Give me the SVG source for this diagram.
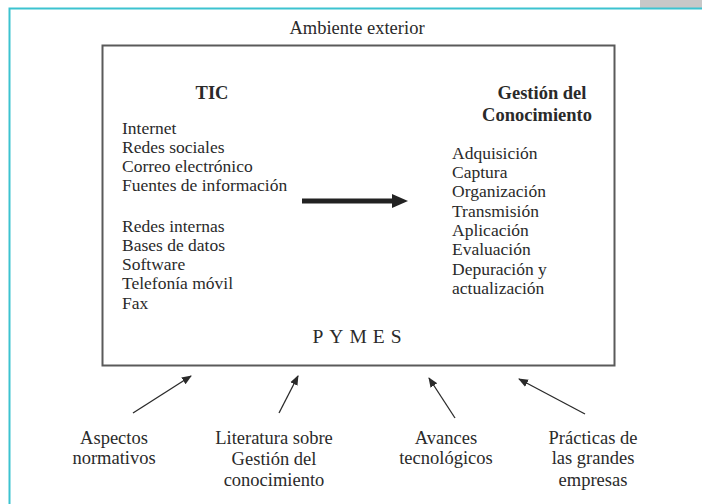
<svg xmlns="http://www.w3.org/2000/svg" width="702" height="504" viewBox="0 0 702 504">
<style>
text{font-family:"Liberation Serif","Times New Roman",serif;fill:#2a2a2a;font-size:17.5px}
.b{font-weight:bold;font-size:18.5px}
.m{text-anchor:middle}
.lbl{font-size:18.5px}
.conn{stroke:#2a2a2a;stroke-width:1.3;fill:none}
</style>
<defs>
<marker id="ah" markerWidth="10" markerHeight="10" refX="9" refY="5" orient="auto" markerUnits="userSpaceOnUse" viewBox="0 0 10 10">
<path d="M0,1 L10,5 L0,9 Z" fill="#2a2a2a"/>
</marker>
</defs>
<rect x="0" y="0" width="702" height="504" fill="#ffffff"/>
<rect x="640" y="0" width="62" height="8" fill="#c8c8c8"/>
<path d="M9.5,504 V8.5 H702" fill="none" stroke="#3cc3d0" stroke-width="2"/>
<g id="ambiente"><text class="m" x="357" y="34" style="font-size:18.5px">Ambiente exterior</text></g>
<g id="pymes">
<rect x="102.5" y="45.5" width="512" height="320" fill="none" stroke="#5a5a5a" stroke-width="2"/>
<text class="m" x="360" y="343" style="font-size:19.5px;letter-spacing:6px">PYMES</text>
</g>
<g id="tic">
<text class="m b" x="212" y="99">TIC</text>
<text x="122" y="134">Internet</text>
<text x="122" y="153">Redes sociales</text>
<text x="122" y="172">Correo electrónico</text>
<text x="122" y="191">Fuentes de información</text>
<text x="122" y="232">Redes internas</text>
<text x="122" y="251">Bases de datos</text>
<text x="122" y="270">Software</text>
<text x="122" y="289">Telefonía móvil</text>
<text x="122" y="309">Fax</text>
</g>
<g id="gestion">
<text class="m b" x="542" y="99">Gestión del</text>
<text class="m b" x="537" y="121">Conocimiento</text>
<text x="452" y="159">Adquisición</text>
<text x="452" y="178">Captura</text>
<text x="452" y="197">Organización</text>
<text x="452" y="217">Transmisión</text>
<text x="452" y="236">Aplicación</text>
<text x="452" y="255">Evaluación</text>
<text x="452" y="275">Depuración y</text>
<text x="452" y="294">actualización</text>
</g>
<g id="n-aspectos"><text class="m lbl" x="114" y="444">Aspectos</text><text class="m lbl" x="114" y="464">normativos</text></g>
<g id="n-literatura"><text class="m lbl" x="274" y="444">Literatura sobre</text><text class="m lbl" x="274" y="465">Gestión del</text><text class="m lbl" x="274" y="486">conocimiento</text></g>
<g id="n-avances"><text class="m lbl" x="446" y="444">Avances</text><text class="m lbl" x="446" y="464">tecnológicos</text></g>
<g id="n-practicas"><text class="m lbl" x="593" y="444">Prácticas de</text><text class="m lbl" x="593" y="464">las grandes</text><text class="m lbl" x="593" y="486">empresas</text></g>
<g id="connectors">
<line x1="302" y1="201" x2="394" y2="201" stroke="#222" stroke-width="5"/>
<path d="M392,194 L408,201 L392,208 Z" fill="#222"/>
<line class="conn" x1="133" y1="413" x2="191" y2="376" marker-end="url(#ah)"/>
<line class="conn" x1="279" y1="413" x2="298" y2="376" marker-end="url(#ah)"/>
<line class="conn" x1="455" y1="418" x2="429" y2="378" marker-end="url(#ah)"/>
<line class="conn" x1="585" y1="414" x2="519" y2="379" marker-end="url(#ah)"/>
</g>
</svg>
